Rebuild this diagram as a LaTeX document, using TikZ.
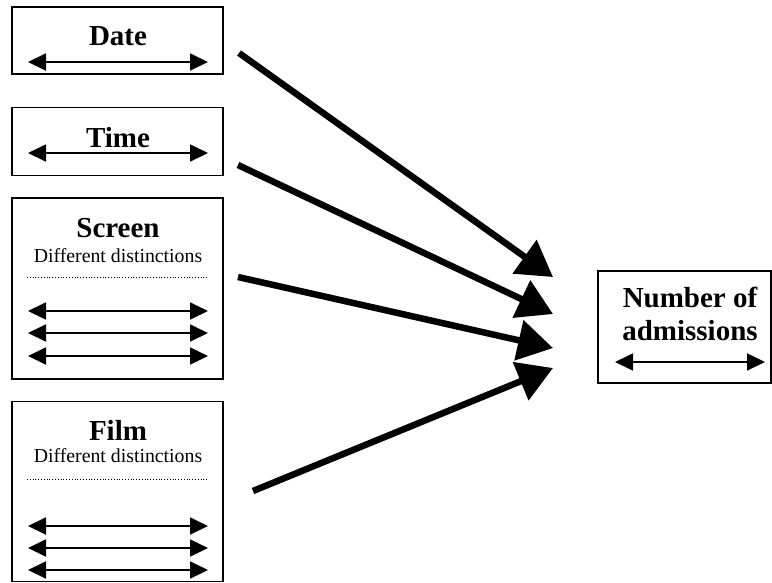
\documentclass[tikz,border=0pt]{standalone}
\usepackage{fontspec}
\setmainfont{Liberation Serif}
\usetikzlibrary{arrows.meta}
\begin{document}
\begin{tikzpicture}[x=1pt,y=-1pt,
  box/.style={draw,line width=1.2pt,inner sep=0pt},
  ttl/.style={anchor=base,font=\fontsize{29}{32}\selectfont\bfseries},
  sub/.style={anchor=base,font=\fontsize{19.8}{22}\selectfont},
  dbl/.style={line width=1.8pt,{Triangle[length=18pt,width=17pt]}-{Triangle[length=18pt,width=17pt]}},
  big/.style={line width=6.5pt,-{Triangle[length=35pt,width=40pt]}},
  dots/.style={line width=0.8pt,dotted}]
\useasboundingbox (0,0) rectangle (772,582);
% Date
\node[box,minimum width=211pt,minimum height=67pt] (date) at (117.5,40.5) {};
\node[ttl] (datet) at (118,45) {Date};
\draw[dbl] (28,62) -- (208,62);
% Time
\node[box,minimum width=211pt,minimum height=68pt] (time) at (117.5,141.5) {};
\node[ttl] (timet) at (118,147) {Time};
\draw[dbl] (28,153) -- (208,153);
% Screen
\node[box,minimum width=211pt,minimum height=181pt] (screen) at (117.5,288.5) {};
\node[ttl] (screent) at (118,237) {Screen};
\node[sub] (screens) at (118,262) {Different distinctions};
\draw[dots] (27,277) -- (207,277);
\draw[dbl] (28,311) -- (208,311);
\draw[dbl] (28,333) -- (208,333);
\draw[dbl] (28,356) -- (208,356);
% Film
\node[box,minimum width=211pt,minimum height=180pt] (film) at (117.5,491.5) {};
\node[ttl] (filmt) at (118,440) {Film};
\node[sub] (films) at (118,462) {Different distinctions};
\draw[dots] (27,479) -- (207,479);
\draw[dbl] (28,526) -- (208,526);
\draw[dbl] (28,548) -- (208,548);
\draw[dbl] (28,570) -- (208,570);
% Number of admissions
\node[box,minimum width=173pt,minimum height=112pt] (num) at (684.5,327) {};
\node[ttl] (numa) at (690,307) {Number of};
\node[ttl] (numb) at (690,340) {admissions};
\draw[dbl] (615,362) -- (765,362);
% big arrows
\coordinate (s1) at (239,53);
\coordinate (e1) at (553,277);
\coordinate (s2) at (238,165);
\coordinate (e2) at (553,314);
\coordinate (s3) at (238,277);
\coordinate (e3) at (553,348);
\coordinate (s4) at (253,491);
\coordinate (e4) at (553,368);
\draw[big] (s1) -- (e1);
\draw[big] (s2) -- (e2);
\draw[big] (s3) -- (e3);
\draw[big] (s4) -- (e4);
\end{tikzpicture}
\end{document}
